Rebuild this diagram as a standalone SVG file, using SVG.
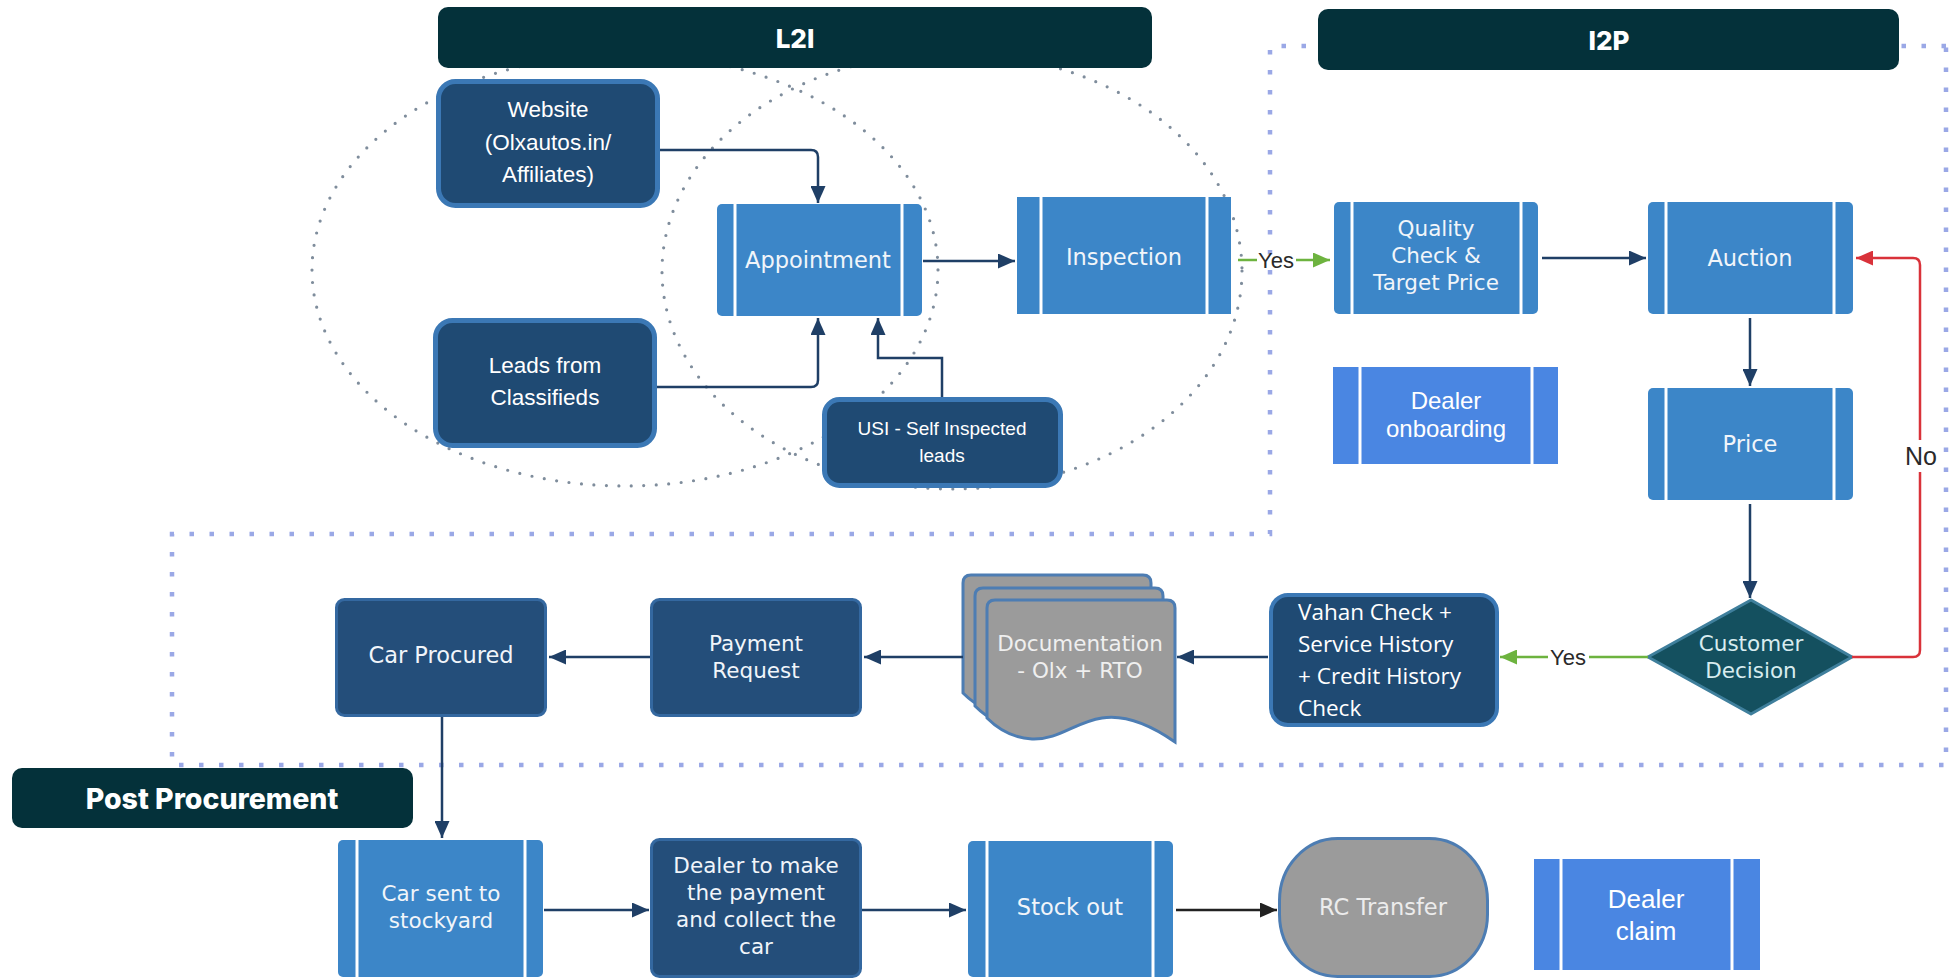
<svg xmlns="http://www.w3.org/2000/svg" xmlns:xlink="http://www.w3.org/1999/xlink" width="1949" height="980" viewBox="0 0 1949 980">
<defs>
<style>
.hdr{fill:#04313a}
.htx{font-family:Inter,'Open Sans',sans-serif;font-weight:800;fill:#ffffff;text-anchor:middle}
.dk{fill:#1f4a73;stroke:#3b78b5;stroke-width:5}
.nv{fill:#244e7a;stroke:#3468a0;stroke-width:3}
.pp{fill:#3c86c8}
.pl{fill:#4a86e2}
.sep{stroke:#ffffff;stroke-width:3}
.gr{fill:#9b9b9b;stroke:#4d7db3;stroke-width:3}
.ar{font-family:'Liberation Sans',Arial,sans-serif;fill:#ffffff;text-anchor:middle}
.os{font-family:'DejaVu Sans','Open Sans',sans-serif;fill:#f1f5fa;text-anchor:middle;font-size:22.5px}
.os2{font-family:'DejaVu Sans','Open Sans',sans-serif;fill:#f1f5fa;text-anchor:middle;font-size:21.5px}
.lbl{font-family:'Liberation Sans',Arial,sans-serif;fill:#2a2a2a;text-anchor:middle}
.ell{fill:none;stroke:#7f8d9c;stroke-width:3.2;stroke-dasharray:0 12.5;stroke-linecap:round}
.bnd{fill:none;stroke:#9aa8e6;stroke-width:4.5;stroke-dasharray:4.5 15.5}
.cn{fill:none;stroke:#1f3f66;stroke-width:2.5}
.cg{fill:none;stroke:#6db33f;stroke-width:2.5}
.cr{fill:none;stroke:#d9323a;stroke-width:2.5}
.ck{fill:none;stroke:#222222;stroke-width:2.5}
</style>
<marker id="mN" markerUnits="userSpaceOnUse" markerWidth="17" markerHeight="15" refX="17" refY="7.5" orient="auto"><path d="M0,0 L17,7.5 L0,15 Z" fill="#1f3f66"/></marker>
<marker id="mG" markerUnits="userSpaceOnUse" markerWidth="17" markerHeight="15" refX="17" refY="7.5" orient="auto"><path d="M0,0 L17,7.5 L0,15 Z" fill="#6db33f"/></marker>
<marker id="mR" markerUnits="userSpaceOnUse" markerWidth="17" markerHeight="15" refX="17" refY="7.5" orient="auto"><path d="M0,0 L17,7.5 L0,15 Z" fill="#d9323a"/></marker>
<marker id="mK" markerUnits="userSpaceOnUse" markerWidth="17" markerHeight="15" refX="17" refY="7.5" orient="auto"><path d="M0,0 L17,7.5 L0,15 Z" fill="#222222"/></marker>
<path id="page" d="M0,8 Q0,0 8,0 H180 Q188,0 188,8 V142 C165,126 140,114 115,118 C88,122 72,140 45,139 C25,138 10,128 0,118 Z"/>
</defs>
<rect width="1949" height="980" fill="#ffffff"/>

<g id="backdrop">
<ellipse class="ell" cx="625" cy="270" rx="313" ry="216"/>
<ellipse class="ell" cx="952" cy="271" rx="290" ry="218"/>
<path class="bnd" d="M1946,46 H1270 V534 H172 V765 H1946 Z"/>
</g>

<g id="header-l2i"><rect class="hdr" x="438" y="7" width="714" height="61" rx="10"/><text class="htx" x="795" y="48" font-size="26">L2I</text></g>
<g id="header-i2p"><rect class="hdr" x="1318" y="9" width="581" height="61" rx="10"/><text class="htx" x="1609" y="50" font-size="26">I2P</text></g>
<g id="header-post"><rect class="hdr" x="12" y="768" width="401" height="60" rx="10"/><text class="htx" x="212" y="809" font-size="28.5">Post Procurement</text></g>

<g id="website"><rect class="dk" x="438.5" y="81.5" width="219" height="124" rx="17"/>
<text class="ar" font-size="22.5"><tspan x="548" y="117">Website</tspan><tspan x="548" y="150">(Olxautos.in/</tspan><tspan x="548" y="182">Affiliates)</tspan></text></g>
<g id="leads"><rect class="dk" x="435.5" y="320.5" width="219" height="125" rx="17"/>
<text class="ar" font-size="22.5"><tspan x="545" y="373">Leads from</tspan><tspan x="545" y="405">Classifieds</tspan></text></g>
<g id="usi"><rect class="dk" x="824.5" y="399.5" width="236" height="86" rx="15"/>
<text class="ar" font-size="19"><tspan x="942" y="435">USI - Self Inspected</tspan><tspan x="942" y="462">leads</tspan></text></g>

<g id="appointment"><rect class="pp" x="717" y="204" width="205" height="112" rx="5"/><line class="sep" x1="735" y1="204" x2="735" y2="316"/><line class="sep" x1="902" y1="204" x2="902" y2="316"/>
<text class="os" x="818" y="268">Appointment</text></g>
<g id="inspection"><rect class="pp" x="1017" y="197" width="214" height="117"/><line class="sep" x1="1041" y1="197" x2="1041" y2="314"/><line class="sep" x1="1207" y1="197" x2="1207" y2="314"/>
<text class="os" x="1124" y="265">Inspection</text></g>
<g id="quality"><rect class="pp" x="1334" y="202" width="204" height="112" rx="5"/><line class="sep" x1="1352" y1="202" x2="1352" y2="314"/><line class="sep" x1="1521" y1="202" x2="1521" y2="314"/>
<text class="os2"><tspan x="1436" y="236">Quality</tspan><tspan x="1436" y="263">Check &amp;</tspan><tspan x="1436" y="290">Target Price</tspan></text></g>
<g id="auction"><rect class="pp" x="1648" y="202" width="205" height="112" rx="5"/><line class="sep" x1="1666" y1="202" x2="1666" y2="314"/><line class="sep" x1="1834" y1="202" x2="1834" y2="314"/>
<text class="os" x="1750" y="266">Auction</text></g>
<g id="price"><rect class="pp" x="1648" y="388" width="205" height="112" rx="5"/><line class="sep" x1="1666" y1="388" x2="1666" y2="500"/><line class="sep" x1="1834" y1="388" x2="1834" y2="500"/>
<text class="os" x="1750" y="452">Price</text></g>
<g id="dealer-onboarding"><rect class="pl" x="1333" y="367" width="225" height="97"/><line class="sep" x1="1360" y1="367" x2="1360" y2="464"/><line class="sep" x1="1532" y1="367" x2="1532" y2="464"/>
<text class="ar" font-size="24"><tspan x="1446" y="409">Dealer</tspan><tspan x="1446" y="437">onboarding</tspan></text></g>

<g id="customer-decision"><polygon points="1751,600 1852,657 1751,714 1648,657" fill="#14505f" stroke="#3f7f9c" stroke-width="3" stroke-linejoin="round"/>
<text class="os2" style="fill:#d8ecef"><tspan x="1751" y="651">Customer</tspan><tspan x="1751" y="678">Decision</tspan></text></g>

<g id="vahan"><rect class="dk" x="1271" y="595" width="226" height="130" rx="17" style="stroke-width:4"/>
<text font-family="'Open Sans','Noto Sans',sans-serif" font-size="22.5" fill="#ffffff"><tspan x="1298" y="620">Vahan Check +</tspan><tspan x="1298" y="652">Service History</tspan><tspan x="1298" y="684">+ Credit History</tspan><tspan x="1298" y="716">Check</tspan></text></g>

<g id="documentation">
<use xlink:href="#page" class="gr" transform="translate(963,575)"/>
<use xlink:href="#page" class="gr" transform="translate(975,588)"/>
<use xlink:href="#page" class="gr" transform="translate(987,600)"/>
<text class="os2" style="fill:#efefef"><tspan x="1080" y="651">Documentation</tspan><tspan x="1080" y="678">- Olx + RTO</tspan></text></g>

<g id="payment-request"><rect class="nv" x="651.5" y="599.5" width="209" height="116" rx="8"/>
<text class="os2"><tspan x="756" y="651">Payment</tspan><tspan x="756" y="678">Request</tspan></text></g>
<g id="car-procured"><rect class="nv" x="336.5" y="599.5" width="209" height="116" rx="8"/>
<text class="os" x="441" y="663">Car Procured</text></g>

<g id="car-sent"><rect class="pp" x="338" y="840" width="205" height="137" rx="5"/><line class="sep" x1="357" y1="840" x2="357" y2="977"/><line class="sep" x1="525" y1="840" x2="525" y2="977"/>
<text class="os2"><tspan x="441" y="901">Car sent to</tspan><tspan x="441" y="928">stockyard</tspan></text></g>
<g id="dealer-payment"><rect class="nv" x="651.5" y="839.5" width="209" height="137" rx="8"/>
<text class="os2"><tspan x="756" y="873">Dealer to make</tspan><tspan x="756" y="900">the payment</tspan><tspan x="756" y="927">and collect the</tspan><tspan x="756" y="954">car</tspan></text></g>
<g id="stock-out"><rect class="pp" x="968" y="841" width="205" height="136" rx="5"/><line class="sep" x1="987" y1="841" x2="987" y2="977"/><line class="sep" x1="1153" y1="841" x2="1153" y2="977"/>
<text class="os" x="1070" y="915">Stock out</text></g>
<g id="rc-transfer"><rect class="gr" x="1279.5" y="838.5" width="208" height="138" rx="58" ry="62"/>
<text class="os" style="fill:#ececec" x="1383" y="915">RC Transfer</text></g>
<g id="dealer-claim"><rect class="pl" x="1534" y="859" width="226" height="111"/><line class="sep" x1="1561" y1="859" x2="1561" y2="970"/><line class="sep" x1="1732" y1="859" x2="1732" y2="970"/>
<text class="ar" font-size="26"><tspan x="1646" y="908">Dealer</tspan><tspan x="1646" y="940">claim</tspan></text></g>

<g id="connectors">
<path class="cn" d="M660,150 H811 Q818,150 818,157 V203" marker-end="url(#mN)"/>
<path class="cn" d="M657,387 H811 Q818,387 818,380 V318" marker-end="url(#mN)"/>
<path class="cn" d="M942,397 V358 H878 V318" marker-end="url(#mN)"/>
<path class="cn" d="M923,261 H1015" marker-end="url(#mN)"/>
<path class="cg" d="M1238,260 H1257"/>
<path class="cg" d="M1296,260 H1330" marker-end="url(#mG)"/>
<text class="lbl" x="1276" y="268" font-size="22">Yes</text>
<path class="cn" d="M1542,258 H1646" marker-end="url(#mN)"/>
<path class="cn" d="M1750,318 V386" marker-end="url(#mN)"/>
<path class="cn" d="M1750,504 V598" marker-end="url(#mN)"/>
<path class="cg" d="M1648,657 H1589"/>
<path class="cg" d="M1548,657 H1500" marker-end="url(#mG)"/>
<text class="lbl" x="1568" y="665" font-size="22">Yes</text>
<path class="cr" d="M1852,657 H1913 Q1920,657 1920,650 V265 Q1920,258 1913,258 H1856" marker-end="url(#mR)"/>
<rect x="1904" y="440" width="34" height="32" fill="#ffffff"/>
<text class="lbl" x="1921" y="465" font-size="25">No</text>
<path class="cn" d="M1268,657 H1177" marker-end="url(#mN)"/>
<path class="cn" d="M963,657 H864" marker-end="url(#mN)"/>
<path class="cn" d="M650,657 H549" marker-end="url(#mN)"/>
<path class="cn" d="M442,717 V838" marker-end="url(#mN)"/>
<path class="cn" d="M544,910 H649" marker-end="url(#mN)"/>
<path class="cn" d="M862,910 H966" marker-end="url(#mN)"/>
<path class="ck" d="M1176,910 H1277" marker-end="url(#mK)"/>
</g>
</svg>
